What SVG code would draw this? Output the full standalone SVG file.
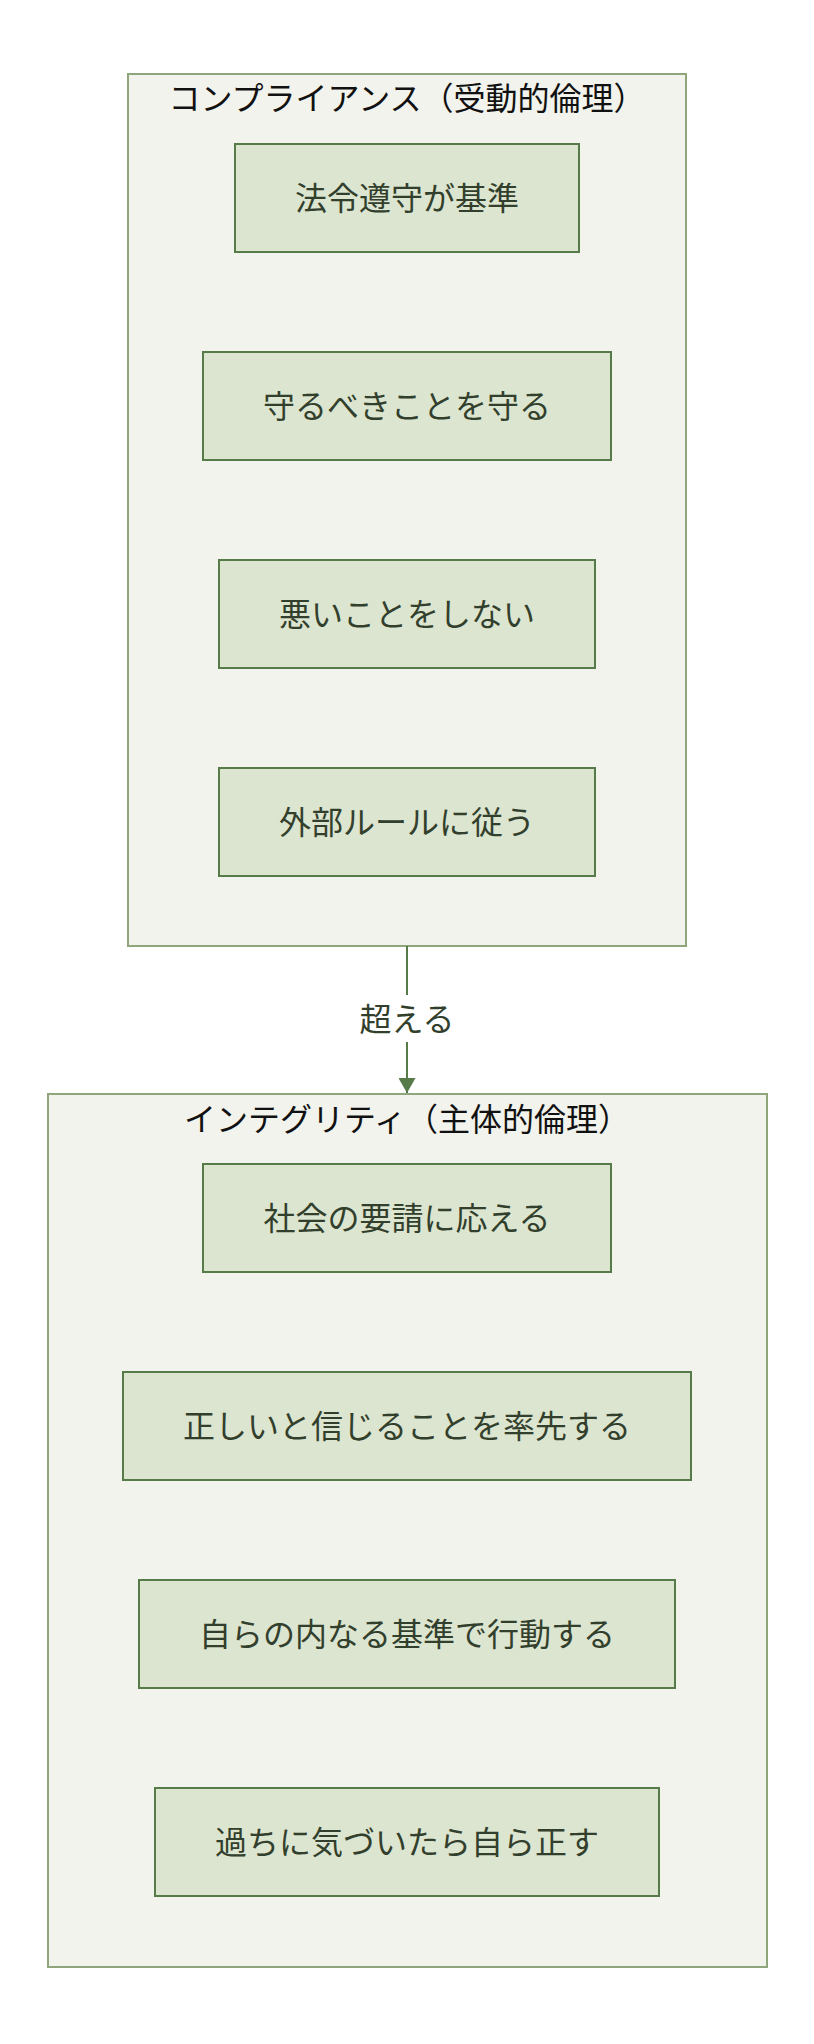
<svg xmlns="http://www.w3.org/2000/svg" width="814" height="2044" viewBox="0 0 814 2044">
<style>
.cluster{fill:#f2f3ec;stroke:#8fa57c;stroke-width:2}
.node rect{fill:#dce5cf;stroke:#567a48;stroke-width:2}
.node text{fill:#333f2d;font-family:"Noto Sans CJK JP","Noto Sans",sans-serif;font-size:32px;text-anchor:middle;dominant-baseline:central}
.title{fill:#111;font-family:"Noto Sans CJK JP","Noto Sans",sans-serif;font-size:32px;text-anchor:middle;dominant-baseline:central}
.edge{stroke:#567a48;stroke-width:2;fill:none}
.elabel{fill:#333f2d;font-family:"Noto Sans CJK JP","Noto Sans",sans-serif;font-size:32px;text-anchor:middle;dominant-baseline:central}
</style>
<defs>
<marker id="arrow" viewBox="0 0 15 17" refX="15" refY="8.5" markerWidth="15" markerHeight="17" markerUnits="userSpaceOnUse" orient="auto">
<path d="M0,0 L15,8.5 L0,17 z" fill="#567a48"/>
</marker>
</defs>
<rect width="814" height="2044" fill="#ffffff"/>
<g id="compliance">
<rect class="cluster" x="128" y="74" width="558" height="872"/>
<text class="title" x="407" y="96">コンプライアンス（受動的倫理）</text>
</g>
<g id="integrity">
<rect class="cluster" x="48" y="1094" width="719" height="873"/>
<text class="title" x="407" y="1117">インテグリティ（主体的倫理）</text>
</g>
<g id="c1" class="node"><rect x="235" y="144" width="344" height="108"/><text x="407" y="196">法令遵守が基準</text></g>
<g id="c2" class="node"><rect x="203" y="352" width="408" height="108"/><text x="407" y="404">守るべきことを守る</text></g>
<g id="c3" class="node"><rect x="219" y="560" width="376" height="108"/><text x="407" y="612">悪いことをしない</text></g>
<g id="c4" class="node"><rect x="219" y="768" width="376" height="108"/><text x="407" y="820">外部ルールに従う</text></g>
<g id="i1" class="node"><rect x="203" y="1164" width="408" height="108"/><text x="407" y="1216">社会の要請に応える</text></g>
<g id="i2" class="node"><rect x="123" y="1372" width="568" height="108"/><text x="407" y="1424">正しいと信じることを率先する</text></g>
<g id="i3" class="node"><rect x="139" y="1580" width="536" height="108"/><text x="407" y="1632">自らの内なる基準で行動する</text></g>
<g id="i4" class="node"><rect x="155" y="1788" width="504" height="108"/><text x="407" y="1840">過ちに気づいたら自ら正す</text></g>
<g id="connectors">
<path class="edge" d="M407,946 L407,1093" marker-end="url(#arrow)"/>
<rect x="356" y="995" width="102" height="47" fill="#ffffff"/>
<text class="elabel" x="407" y="1017">超える</text>
</g>
</svg>
